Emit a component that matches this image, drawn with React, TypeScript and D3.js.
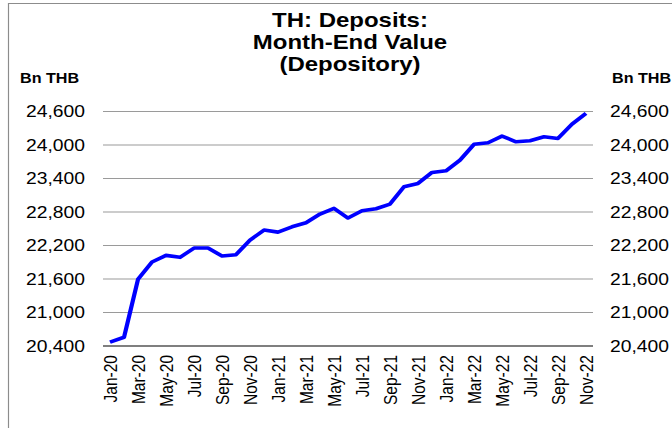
import React from "react";
import * as d3 from "d3";

const months: string[] = [
  "Jan-20","Feb-20","Mar-20","Apr-20","May-20","Jun-20","Jul-20","Aug-20","Sep-20","Oct-20","Nov-20","Dec-20",
  "Jan-21","Feb-21","Mar-21","Apr-21","May-21","Jun-21","Jul-21","Aug-21","Sep-21","Oct-21","Nov-21","Dec-21",
  "Jan-22","Feb-22","Mar-22","Apr-22","May-22","Jun-22","Jul-22","Aug-22","Sep-22","Oct-22","Nov-22",
];
const deposits: number[] = [
  20470, 20556, 21594, 21904, 22023, 21988, 22154, 22154, 22011, 22035, 22297, 22476,
  22440, 22535, 22607, 22763, 22865, 22692, 22822, 22858, 22942, 23252, 23312, 23509,
  23538, 23730, 24012, 24040, 24160, 24058, 24076, 24147, 24118, 24374, 24565,
];
const yTicks: number[] = [20400, 21000, 21600, 22200, 22800, 23400, 24000, 24600];
const titleLines: string[] = ["TH: Deposits:", "Month-End Value", "(Depository)"];
const unitLabel = "Bn THB";

const SX = 1.17;
const W = 672 / SX;
const H = 428;
const left = 103 / SX;
const right = 593 / SX;
const top = 111.5;
const bottom = 346;
const font = "'Liberation Sans', Arial, sans-serif";

export default function App() {
  const x = d3.scaleBand<string>().domain(months).range([left, right]);
  const y = d3.scaleLinear().domain([20400, 24600]).range([bottom, top]);
  const line = d3
    .line<number>()
    .x((_, i) => (x(months[i]) as number) + x.bandwidth() / 2)
    .y((d) => y(d));
  const fmt = d3.format(",");
  const showIdx = months.map((_, i) => i).filter((i) => i % 2 === 0);

  return (
    <svg
      width={672}
      height={428}
      viewBox={`0 0 ${W} ${H}`}
      preserveAspectRatio="none"
      style={{ position: "absolute", left: 0, top: 0, background: "#fff" }}
      fontFamily={font}
    >
      <rect x={8.5 / SX} y={3.5} width={800} height={600} fill="#fff" stroke="#8c8c8c" strokeWidth={1} />
      {titleLines.map((t, i) => (
        <text key={t} x={350 / SX} y={27 + i * 22} textAnchor="middle" fontWeight="bold" fontSize={20.5} fill="#000">
          {t}
        </text>
      ))}
      <text x={20 / SX} y={83} fontWeight="bold" fontSize={13.8} fill="#000">{unitLabel}</text>
      <text x={612 / SX} y={83} fontWeight="bold" fontSize={13.8} fill="#000">{unitLabel}</text>
      {yTicks.map((t) => (
        <g key={t}>
          {t !== 20400 && (
            <line x1={left} x2={right} y1={y(t)} y2={y(t)} stroke="#9a9a9a" strokeWidth={1.2} />
          )}
          <text x={85 / SX} y={y(t)} dy="0.36em" textAnchor="end" fontSize={16.5} fill="#000">{fmt(t)}</text>
          <text x={610 / SX} y={y(t)} dy="0.36em" textAnchor="start" fontSize={16.5} fill="#000">{fmt(t)}</text>
        </g>
      ))}
      <line x1={left} x2={right} y1={bottom} y2={bottom} stroke="#000" strokeWidth={1} />
      {showIdx.map((i) => {
        const cx = (x(months[i]) as number) + x.bandwidth() / 2;
        return (
          <text
            key={months[i]}
            transform={`translate(${cx},355) rotate(-90)`}
            dy="0.36em"
            textAnchor="end"
            fontSize={15.5}
            fill="#000"
          >
            {months[i]}
          </text>
        );
      })}
      <path d={line(deposits) as string} fill="none" stroke="#0000ff" strokeWidth={3.6} strokeLinejoin="round" />
    </svg>
  );
}
